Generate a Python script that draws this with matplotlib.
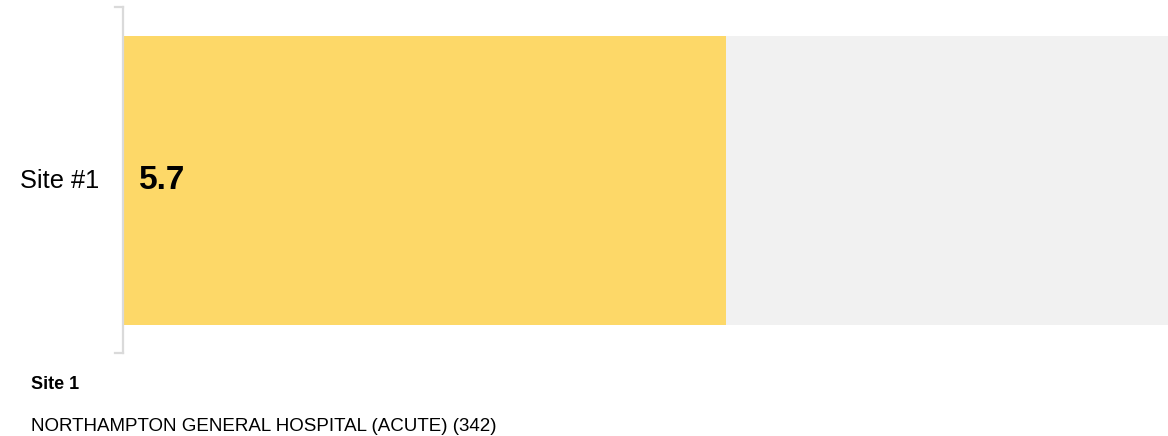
import matplotlib.pyplot as plt

# Score for each site
sites = ['Site #1']
scores = [5.7]
scale_max = 10
site_title = 'Site 1'
site_name = 'NORTHAMPTON GENERAL HOSPITAL (ACUTE) (342)'

plt.rcParams['font.family'] = ['Liberation Sans', 'DejaVu Sans']

fig = plt.figure(figsize=(11.68, 4.36), dpi=100)
W, H = 1168, 436

# bar area in pixels: left 124, right 1168, top 36, bottom 325
ax = fig.add_axes([124 / W, 1 - 325 / H, (1168 - 124) / W, (325 - 36) / H])
ax.barh(sites, [scale_max], height=1.0, color='#f1f1f1')
ax.barh(sites, scores, height=1.0, color='#fdd868')
ax.set_xlim(0, scores[0] * (1168 - 124) / (726 - 124))
ax.set_ylim(-0.5, 0.5)
ax.axis('off')

for i, v in enumerate(scores):
    ax.text(0.14, i, f'{v}', fontsize=24, fontweight='bold', va='center', ha='left')

# bracket on the left of the bar
bx = 122.5 / W
line_kw = dict(color='#dadada', lw=1.6)
fig.add_artist(plt.Line2D([bx, bx], [1 - 7 / H, 1 - 353 / H], **line_kw))
fig.add_artist(plt.Line2D([115 / W, bx], [1 - 7 / H, 1 - 7 / H], **line_kw))
fig.add_artist(plt.Line2D([115 / W, bx], [1 - 353 / H, 1 - 353 / H], **line_kw))

fig.text(99 / W, 1 - 181 / H, sites[0], fontsize=18.3, ha='right', va='center')
fig.text(31 / W, 1 - 384 / H, site_title, fontsize=13, fontweight='bold', va='center')
fig.text(31 / W, 1 - 426 / H, site_name, fontsize=13.5, va='center')

fig.savefig('out.png', dpi=100)
